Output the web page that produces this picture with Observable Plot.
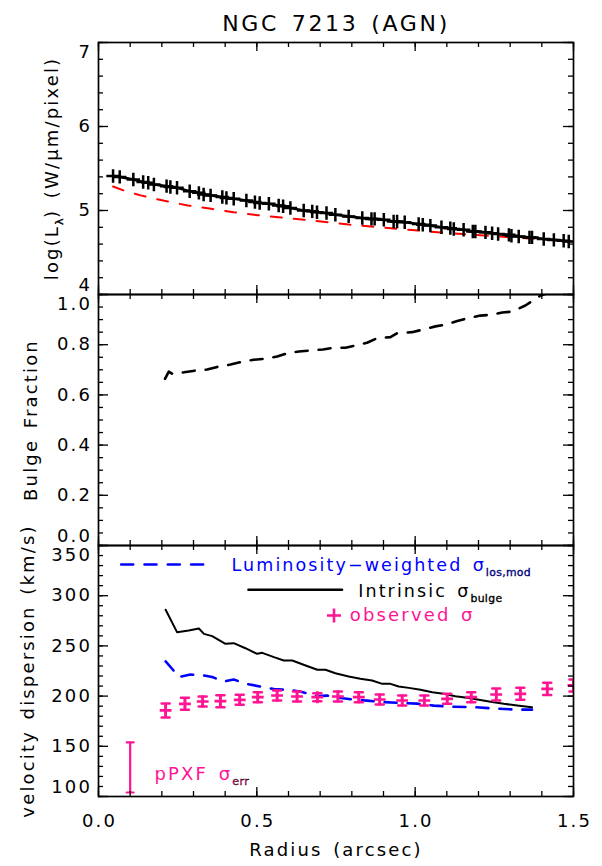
<!DOCTYPE html>
<html><head><meta charset="utf-8">
<script src="https://cdn.jsdelivr.net/npm/d3@7"></script>
<script src="https://cdn.jsdelivr.net/npm/@observablehq/plot@0.6"></script>
<style>
body{margin:0;background:#fff;}
#wrap{position:relative;width:602px;height:866px;overflow:hidden;background:#fff;}
#wrap text{letter-spacing:0.12em;word-spacing:0.15em;}
</style></head><body><div id="wrap"></div>
<script>
// ---------- data ----------
const title = "NGC 7213 (AGN)";
const xDomain = [0, 1.5];
const xMajor = [0, 0.5, 1.0, 1.5];
const xTickLabels = ["0.0", "0.5", "1.0", "1.5"];

const lumMajor = [4, 5, 6, 7];
const lumTickLabels = ["4", "5", "6", "7"];
const bfMajor = [0, 0.2, 0.4, 0.6, 0.8, 1.0];
const bfTickLabels = ["0.0", "0.2", "0.4", "0.6", "0.8", "1.0"];
const sigMajor = [100, 150, 200, 250, 300, 350];
const sigTickLabels = ["100", "150", "200", "250", "300", "350"];

// panel 1: observed luminosity profile (black +) and model (red dashed)
const lumR = [0.046,0.067,0.110,0.141,0.157,0.175,0.215,0.227,0.248,0.288,0.317,0.332,0.354,0.391,0.404,0.427,0.467,0.494,0.509,0.538,0.569,0.583,0.606,0.648,0.675,0.690,0.720,0.748,0.790,0.833,0.862,0.872,0.901,0.932,0.943,0.967,1.011,1.024,1.048,1.083,1.111,1.122,1.153,1.182,1.190,1.222,1.243,1.262,1.296,1.304,1.327,1.361,1.369,1.406,1.438,1.469,1.485];
const lumLog = [5.41,5.40,5.37,5.34,5.33,5.31,5.29,5.28,5.27,5.23,5.21,5.19,5.18,5.16,5.15,5.14,5.12,5.10,5.09,5.08,5.06,5.05,5.03,5.00,4.99,4.98,4.97,4.95,4.93,4.91,4.90,4.90,4.89,4.87,4.87,4.86,4.84,4.83,4.82,4.80,4.79,4.78,4.77,4.75,4.75,4.74,4.73,4.72,4.71,4.70,4.69,4.68,4.68,4.66,4.65,4.64,4.63];
const modelR = [0.046,0.08,0.133,0.208,0.282,0.356,0.427,0.503,0.577,0.65,0.724,0.79,0.86,0.94,1.01,1.08,1.15,1.23,1.31,1.37,1.45,1.5];
const modelLog = [5.286,5.238,5.18,5.115,5.06,5.02,4.98,4.944,4.917,4.889,4.861,4.833,4.81,4.782,4.762,4.738,4.72,4.70,4.68,4.665,4.645,4.63];

// panel 2: bulge fraction
const bulgeR = [0.210,0.222,0.233,0.270,0.306,0.343,0.380,0.417,0.454,0.490,0.524,0.564,0.596,0.633,0.669,0.709,0.743,0.780,0.812,0.848,0.880,0.922,0.943,0.990,1.027,1.064,1.096,1.133,1.169,1.206,1.238,1.275,1.306,1.348,1.375,1.396,1.417];
const bulgeFrac = [0.664,0.693,0.684,0.690,0.697,0.701,0.713,0.721,0.732,0.740,0.744,0.753,0.766,0.773,0.777,0.781,0.788,0.788,0.797,0.808,0.826,0.830,0.846,0.850,0.861,0.873,0.880,0.894,0.907,0.916,0.919,0.928,0.932,0.956,0.979,0.996,1.005];

// panel 3: velocity dispersion
const intR = [0.212,0.248,0.285,0.317,0.333,0.359,0.401,0.427,0.464,0.501,0.517,0.554,0.585,0.612,0.654,0.691,0.717,0.748,0.790,0.827,0.864,0.896,0.922,0.948,0.980,1.017,1.054,1.090,1.127,1.164,1.201,1.238,1.280,1.322,1.369];
const intSig = [286,263.7,265.3,267.3,262,259.7,252.1,252.7,247.7,242.1,243.1,238.8,235.5,235.5,230.5,226.2,226.2,222.8,219.5,217.2,215.5,212.2,212.2,209.6,208.2,206.3,203.9,202.3,199.9,198.3,196.3,194.3,192.3,190.6,188.9];
const losR = [0.212,0.233,0.254,0.290,0.333,0.359,0.396,0.427,0.470,0.512,0.554,0.606,0.643,0.691,0.722,0.754,0.806,0.848,0.901,0.964,1.006,1.059,1.111,1.185,1.259,1.322,1.369];
const losSig = [234.5,227,219,221.5,220.5,219,214.5,216.5,212,209.5,207,206,204,200,200.5,198.5,196.5,195.5,194,193,192.5,190.5,189.5,189,187.5,186.5,186.5];
const obsR = [0.212,0.273,0.329,0.385,0.446,0.503,0.564,0.627,0.691,0.756,0.822,0.888,0.959,1.029,1.101,1.177,1.256,1.332,1.417,1.500];
const obsSig = [185.7,192.3,194.6,194.9,196.3,198.9,200.6,199.6,198.9,199.6,198.9,196.6,195.6,195.6,197.3,198.9,201.6,202.3,207.2,210.6];
const obsErr = [7,6,5,6,5,5,5,5,4,5,5,5,5,5,5,5,6,6,6,6];
const errSampleR = [0.1];
const errSampleSig = [129];
const errSampleErr = [25];

const yLabel1 = "log(L_{λ}) (W/μm/pixel)";
const yLabel2 = "Bulge Fraction";
const yLabel3 = "velocity dispersion (km/s)";
const xLabel = "Radius (arcsec)";
const legendLos = "Luminosity−weighted σ_{los,mod}";
const legendInt = "Intrinsic σ_{bulge}";
const legendObs = "observed σ";
const errLabel = "pPXF σ_{err}";

// ---------- helpers ----------
const NS = "http://www.w3.org/2000/svg";
const PINK = "#ff1493", BLUE = "#0000ff", RED = "#ff0000";
const IW = 475;
const zip = (a, b, c) => a.map((v, i) => ({r: v, v: b[i], e: c ? c[i] : 0}));
const hlineC = {draw(ctx, l) { ctx.moveTo(-l / 2, 0); ctx.lineTo(l / 2, 0); }};
const hlineS = {draw(ctx, l) { ctx.moveTo(0, 0); ctx.lineTo(l, 0); }};
const xMinor = d3.range(0, 1.5001, 0.1);

function frameMarks(yMajor, yMinor, yLabels, innerH) {
  const lab = yMajor.map((v, i) => ({v, t: yLabels[i]}));
  const n = lab.length;
  const tk = {stroke: "black", strokeWidth: 1.3};
  return [
    Plot.tickY(yMajor, {y: d => d, insetRight: IW - 10, ...tk}),
    Plot.tickY(yMajor, {y: d => d, insetLeft: IW - 10, ...tk}),
    Plot.tickY(yMinor, {y: d => d, insetRight: IW - 5, ...tk}),
    Plot.tickY(yMinor, {y: d => d, insetLeft: IW - 5, ...tk}),
    Plot.tickX(xMajor, {x: d => d, insetTop: innerH - 9, ...tk}),
    Plot.tickX(xMajor, {x: d => d, insetBottom: innerH - 9, ...tk}),
    Plot.tickX(xMinor, {x: d => d, insetTop: innerH - 5, ...tk}),
    Plot.tickX(xMinor, {x: d => d, insetBottom: innerH - 5, ...tk}),
    Plot.frame({stroke: "black", strokeWidth: 1.7}),
    Plot.text(lab.slice(1, n - 1), {y: "v", text: "t", frameAnchor: "left", dx: -6.5, textAnchor: "end", lineAnchor: "middle", fontSize: 18}),
    Plot.text(lab.slice(n - 1), {y: "v", text: "t", frameAnchor: "left", dx: -6.5, dy: 3, textAnchor: "end", lineAnchor: "top", fontSize: 18}),
    Plot.text(lab.slice(0, 1), {y: "v", text: "t", frameAnchor: "left", dx: -6.5, dy: -4, textAnchor: "end", lineAnchor: "bottom", fontSize: 18})
  ];
}

function base(h, mt, mb, top, yDomain, marks) {
  return Plot.plot({
    width: 602, height: h, marginLeft: 98, marginRight: 29, marginTop: mt, marginBottom: mb,
    x: {domain: xDomain, axis: null},
    y: {domain: yDomain, axis: null},
    style: {fontFamily: "DejaVu Sans", background: "transparent", overflow: "visible", position: "absolute", left: "0px", top: top + "px", color: "black"},
    marks
  });
}

function rich(svg) {
  svg.querySelectorAll("text").forEach(t => {
    const s = t.textContent;
    if (!s.includes("_{")) return;
    const parts = s.split(/(_\{[^}]*\})/);
    t.textContent = "";
    let down = 0;
    for (const p of parts) {
      if (!p) continue;
      const ts = document.createElementNS(NS, "tspan");
      if (p.startsWith("_{")) {
        ts.textContent = p.slice(2, -1);
        ts.style.fontSize = "0.62em";
        ts.style.letterSpacing = "0.03em";
        ts.style.stroke = "currentColor";
        ts.style.strokeWidth = "0.35";
        ts.setAttribute("dy", "5");
        down = 5;
      } else {
        ts.textContent = p;
        if (down) { ts.setAttribute("dy", String(-down)); down = 0; }
      }
      t.appendChild(ts);
    }
  });
  return svg;
}

const wrap = document.getElementById("wrap");

// ---------- panel 1 ----------
const lum = zip(lumR, lumLog);
const model = zip(modelR, modelLog);
const p1 = base(294, 42, 0, 0, [4, 7], [
  Plot.line(model, {x: "r", y: "v", stroke: RED, strokeWidth: 2, strokeDasharray: "11,12", clip: true}),
  Plot.line(lum, {x: "r", y: "v", stroke: "black", strokeWidth: 2.6, clip: true}),
  Plot.dot(lum, {x: "r", y: "v", symbol: "plus", r: 4.4, stroke: "black", strokeWidth: 2.5, clip: true}),
  ...frameMarks(lumMajor, d3.range(4, 7.0001, 0.2), lumTickLabels, 252),
  Plot.text([title], {frameAnchor: "top", dy: -12, lineAnchor: "bottom", fontSize: 22}),
  Plot.text([yLabel1], {frameAnchor: "left", dx: -41, rotate: -90, textAnchor: "middle", lineAnchor: "bottom", fontSize: 18})
]);
wrap.appendChild(rich(p1));

// ---------- panel 2 ----------
const bulge = zip(bulgeR, bulgeFrac);
const p2 = base(251, 0, 0, 294, [0, 1], [
  Plot.line(bulge, {x: "r", y: "v", stroke: "black", strokeWidth: 2.6, strokeDasharray: "12,11", clip: true}),
  ...frameMarks(bfMajor, d3.range(0, 1.0001, 0.05), bfTickLabels, 251),
  Plot.text([yLabel2], {frameAnchor: "left", dx: -62, rotate: -90, textAnchor: "middle", lineAnchor: "bottom", fontSize: 18})
]);
wrap.appendChild(rich(p2));

// ---------- panel 3 ----------
const intr = zip(intR, intSig);
const los = zip(losR, losSig);
const obs = zip(obsR, obsSig, obsErr);
const errS = zip(errSampleR, errSampleSig, errSampleErr);
const xLab = xMajor.map((v, i) => ({v, t: xTickLabels[i]}));
const p3 = base(321, 0, 70, 545, [100, 350], [
  Plot.line(los, {x: "r", y: "v", stroke: BLUE, strokeWidth: 2.6, strokeDasharray: "12,11", clip: true}),
  Plot.line(intr, {x: "r", y: "v", stroke: "black", strokeWidth: 2, clip: true}),
  Plot.ruleX(obs, {x: "r", y1: d => d.v - d.e, y2: d => d.v + d.e, stroke: PINK, strokeWidth: 2.5, clip: true}),
  Plot.vector(obs, {x: "r", y: d => d.v - d.e, length: 8, shape: hlineC, anchor: "start", stroke: PINK, strokeWidth: 2.5, clip: true}),
  Plot.vector(obs, {x: "r", y: d => d.v + d.e, length: 8, shape: hlineC, anchor: "start", stroke: PINK, strokeWidth: 2.5, clip: true}),
  Plot.dot(obs, {x: "r", y: "v", symbol: "plus", r: 3.9, stroke: PINK, strokeWidth: 2.7, clip: true}),
  // pPXF error sample
  Plot.ruleX(errS, {x: "r", y1: d => d.v - d.e, y2: d => d.v + d.e, stroke: PINK, strokeWidth: 2.2}),
  Plot.vector(errS, {x: "r", y: d => d.v - d.e, length: 7, shape: hlineC, anchor: "start", stroke: PINK, strokeWidth: 2.2}),
  Plot.vector(errS, {x: "r", y: d => d.v + d.e, length: 7, shape: hlineC, anchor: "start", stroke: PINK, strokeWidth: 2.2}),
  Plot.text([errLabel], {frameAnchor: "top-left", dx: 56, dy: 234, textAnchor: "start", lineAnchor: "bottom", fill: PINK, fontSize: 18}),
  // legend
  Plot.vector([0], {frameAnchor: "top-left", dx: 22.7, dy: 19, length: 82, shape: hlineS, anchor: "start", stroke: BLUE, strokeWidth: 2.6, strokeDasharray: "12,11.3"}),
  Plot.text([legendLos], {frameAnchor: "top-left", dx: 133, dy: 25.7, textAnchor: "start", lineAnchor: "bottom", fill: BLUE, fontSize: 17.5}),
  Plot.vector([0], {frameAnchor: "top-left", dx: 150, dy: 44.3, length: 93.5, shape: hlineS, anchor: "start", stroke: "black", strokeWidth: 2.6}),
  Plot.text([legendInt], {frameAnchor: "top-left", dx: 259.7, dy: 51, textAnchor: "start", lineAnchor: "bottom", fill: "black", fontSize: 17.5}),
  Plot.dot([0], {frameAnchor: "top-left", dx: 235.5, dy: 70, symbol: "plus", r: 4.6, stroke: PINK, strokeWidth: 2.6}),
  Plot.text([legendObs], {frameAnchor: "top-left", dx: 251.3, dy: 75.7, textAnchor: "start", lineAnchor: "bottom", fill: PINK, fontSize: 18}),
  ...frameMarks(sigMajor, d3.range(100, 350.1, 10), sigTickLabels, 251),
  Plot.text(xLab, {x: "v", text: "t", frameAnchor: "bottom", dx: 1, dy: 18, textAnchor: "middle", lineAnchor: "top", fontSize: 18}),
  Plot.text([xLabel], {frameAnchor: "bottom", dy: 59, textAnchor: "middle", lineAnchor: "bottom", fontSize: 18}),
  Plot.text([yLabel3], {frameAnchor: "left", dx: -65, rotate: -90, textAnchor: "middle", lineAnchor: "bottom", fontSize: 18})
]);
wrap.appendChild(rich(p3));
</script>
</body></html>
